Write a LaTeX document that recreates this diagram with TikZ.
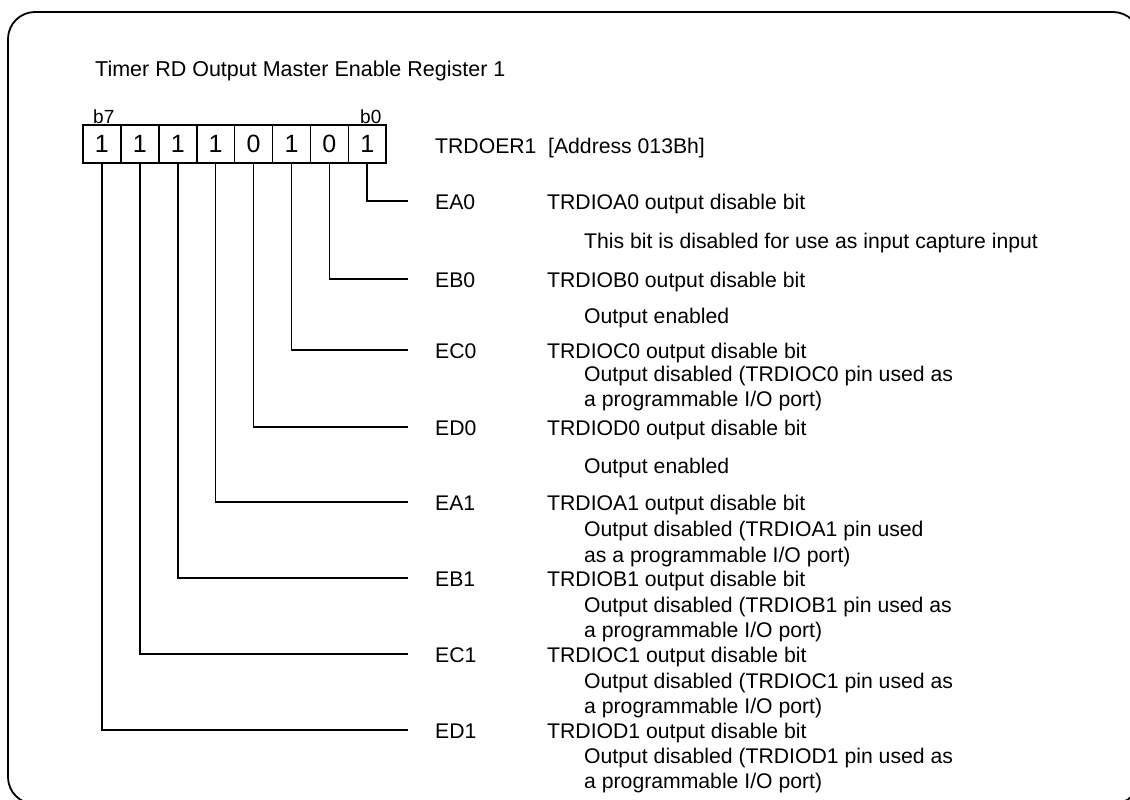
\documentclass[tikz,border=0pt]{standalone}
\usepackage{fontspec}
\setmainfont{Liberation Sans}
\begin{document}
\begin{tikzpicture}[x=1pt,y=-1pt,
  txt/.style={anchor=base west, inner sep=0pt, font=\fontsize{21.2}{25}\selectfont},
  bitlbl/.style={anchor=base west, inner sep=0pt, font=\fontsize{19}{22}\selectfont},
  cell/.style={draw, line width=1.6pt, minimum width=37.9pt, minimum height=38pt, inner sep=0pt, font=\fontsize{25}{29}\selectfont},
  conn/.style={line width=1.6pt},
  frame/.style={line width=1.8pt, rounded corners=27pt}]
\useasboundingbox (0,0) rectangle (1130,800);
\begin{scope}
  \clip (0,0) rectangle (1130,800);
  \draw[frame] (8,12) rectangle (1140,804);
\end{scope}

\node[txt, font=\fontsize{21.5}{25}\selectfont] (title) at (95,77) {Timer RD Output Master Enable Register 1};

% register cells
\foreach \i/\v in {7/1,6/1,5/1,4/1,3/0,2/1,1/0,0/1}{
  \node[cell] (c\i) at ({83+37.9*(7-\i)+18.95},144) {\v};
}
\node[bitlbl] (b7) at (93,123) {b7};
\node[bitlbl] (b0) at (360,123) {b0};
\node[txt] (reg) at (435,153) {TRDOER1\hspace{0.55em}[Address 013Bh]};

% connector ends
\coordinate (e0) at (408,201);
\coordinate (e1) at (408,279);
\coordinate (e2) at (408,350);
\coordinate (e3) at (408,427);
\coordinate (e4) at (408,502);
\coordinate (e5) at (408,578);
\coordinate (e6) at (408,654);
\coordinate (e7) at (408,730);
\foreach \i in {0,...,7}{
  \draw[conn] (c\i.south) |- (e\i);
}

% labels
\node[txt] (lEA0) at (435,209) {EA0};
\node[txt] (dEA0) at (547,209) {TRDIOA0 output disable bit};
\node[txt] (sEA0) at (584,248) {This bit is disabled for use as input capture input};

\node[txt] (lEB0) at (435,287) {EB0};
\node[txt] (dEB0) at (547,287) {TRDIOB0 output disable bit};
\node[txt] (sEB0) at (584,323) {Output enabled};

\node[txt] (lEC0) at (435,358) {EC0};
\node[txt] (dEC0) at (547,358) {TRDIOC0 output disable bit};
\node[txt] (sEC0a) at (584,381) {Output disabled (TRDIOC0 pin used as};
\node[txt] (sEC0b) at (584,406) {a programmable I/O port)};

\node[txt] (lED0) at (435,435) {ED0};
\node[txt] (dED0) at (547,435) {TRDIOD0 output disable bit};
\node[txt] (sED0) at (584,473) {Output enabled};

\node[txt] (lEA1) at (435,510) {EA1};
\node[txt] (dEA1) at (547,510) {TRDIOA1 output disable bit};
\node[txt] (sEA1a) at (584,536) {Output disabled (TRDIOA1 pin used};
\node[txt] (sEA1b) at (584,562) {as a programmable I/O port)};

\node[txt] (lEB1) at (435,586) {EB1};
\node[txt] (dEB1) at (547,586) {TRDIOB1 output disable bit};
\node[txt] (sEB1a) at (584,612) {Output disabled (TRDIOB1 pin used as};
\node[txt] (sEB1b) at (584,637) {a programmable I/O port)};

\node[txt] (lEC1) at (435,662) {EC1};
\node[txt] (dEC1) at (547,662) {TRDIOC1 output disable bit};
\node[txt] (sEC1a) at (584,688) {Output disabled (TRDIOC1 pin used as};
\node[txt] (sEC1b) at (584,713) {a programmable I/O port)};

\node[txt] (lED1) at (435,738) {ED1};
\node[txt] (dED1) at (547,738) {TRDIOD1 output disable bit};
\node[txt] (sED1a) at (584,763) {Output disabled (TRDIOD1 pin used as};
\node[txt] (sED1b) at (584,788) {a programmable I/O port)};
\end{tikzpicture}
\end{document}
